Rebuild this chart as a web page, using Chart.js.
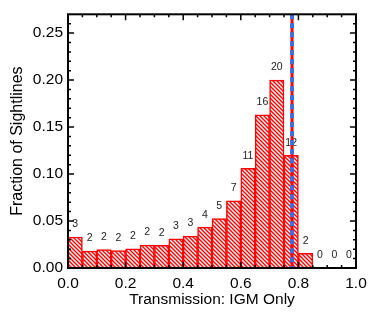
<!DOCTYPE html>
<html>
<head>
<meta charset="utf-8">
<script src="https://cdn.jsdelivr.net/npm/chart.js@4.4.1/dist/chart.umd.min.js"></script>
<style>
  html, body { margin: 0; padding: 0; background: #fff; }
  canvas { display: block; }
</style>
</head>
<body>
<canvas id="histChart" width="374" height="312"></canvas>
<script>
// bin centres (width 0.05), fraction of sightlines per bin, and the count printed above each bar
const binCenters = [0.025, 0.075, 0.125, 0.175, 0.225, 0.275, 0.325, 0.375, 0.425, 0.475,
                    0.525, 0.575, 0.625, 0.675, 0.725, 0.775, 0.825, 0.875, 0.925, 0.975];
const fractions = [0.033, 0.018, 0.0195, 0.0185, 0.0205, 0.0245, 0.024, 0.031, 0.034, 0.0435,
                   0.0525, 0.0715, 0.106, 0.163, 0.200, 0.120, 0.0157, 0, 0, 0];
const counts = [3, 2, 2, 2, 2, 2, 2, 3, 3, 4, 5, 7, 11, 16, 20, 12, 2, 0, 0, 0];
const xTicks = [0.0, 0.2, 0.4, 0.6, 0.8, 1.0];
const yTicks = [0.00, 0.05, 0.10, 0.15, 0.20, 0.25];
const markerX = 0.778;

Chart.defaults.font.family = '"Liberation Sans", Arial, sans-serif';
Chart.defaults.color = '#000';

// red diagonal hatching
const makeHatch = () => {
  const s = 4;
  const c = document.createElement('canvas');
  c.width = s; c.height = s;
  const g = c.getContext('2d');
  g.fillStyle = '#fff';
  g.fillRect(0, 0, s, s);
  g.strokeStyle = '#ff0000';
  g.lineWidth = 1.4;
  [-s, 0, s].forEach(o => {
    g.beginPath();
    g.moveTo(o - 1, -1);
    g.lineTo(o + s + 1, s + 1);
    g.stroke();
  });
  return g.createPattern(c, 'repeat');
};

const framePlugin = {
  id: 'frame',
  afterDatasetsDraw(chart) {
    const { ctx, chartArea: a, scales: { x, y } } = chart;
    const meta = chart.getDatasetMeta(0);

    // counts above the bars
    ctx.save();
    ctx.font = '10.5px "Liberation Sans", Arial, sans-serif';
    ctx.fillStyle = '#222';
    ctx.textAlign = 'center';
    ctx.textBaseline = 'middle';
    meta.data.forEach((bar, i) => {
      ctx.fillText(String(counts[i]), x.getPixelForValue(binCenters[i]), y.getPixelForValue(fractions[i]) - 12.5);
    });

    // vertical marker: red under blue dashes
    const mx = x.getPixelForValue(markerX);
    ctx.lineWidth = 3;
    ctx.strokeStyle = '#ff0000';
    ctx.beginPath(); ctx.moveTo(mx, a.top); ctx.lineTo(mx, a.bottom); ctx.stroke();
    ctx.lineWidth = 4;
    ctx.strokeStyle = '#3b6fe0';
    ctx.setLineDash([5, 4]);
    ctx.beginPath(); ctx.moveTo(mx, a.top); ctx.lineTo(mx, a.bottom); ctx.stroke();
    ctx.setLineDash([]);

    // box and inward ticks on all sides
    ctx.strokeStyle = '#000';
    ctx.lineWidth = 1.5;
    for (let v = 0; v <= 1.0001; v += 0.05) {
      const px = x.getPixelForValue(v);
      const major = Math.abs(v / 0.2 - Math.round(v / 0.2)) < 1e-6;
      const len = major ? 6 : 3;
      ctx.beginPath();
      ctx.moveTo(px, a.bottom); ctx.lineTo(px, a.bottom - len);
      ctx.moveTo(px, a.top); ctx.lineTo(px, a.top + len);
      ctx.stroke();
    }
    for (let v = 0; v <= 0.27; v += 0.01) {
      const py = y.getPixelForValue(v);
      const major = Math.abs(v / 0.05 - Math.round(v / 0.05)) < 1e-6;
      const len = major ? 6 : 3;
      ctx.beginPath();
      ctx.moveTo(a.left, py); ctx.lineTo(a.left + len, py);
      ctx.moveTo(a.right, py); ctx.lineTo(a.right - len, py);
      ctx.stroke();
    }
    ctx.lineWidth = 2;
    ctx.strokeRect(a.left, a.top, a.right - a.left, a.bottom - a.top);
    ctx.restore();
  }
};

new Chart(document.getElementById('histChart').getContext('2d'), {
  type: 'bar',
  data: {
    datasets: [{
      data: binCenters.map((v, i) => ({ x: v, y: fractions[i] })),
      backgroundColor: makeHatch(),
      borderColor: '#ff0000',
      borderWidth: 1.5,
      barPercentage: 1,
      categoryPercentage: 1
    }]
  },
  options: {
    responsive: false,
    animation: false,
    devicePixelRatio: 1,
    layout: { padding: { left: 0, right: 18, top: 5, bottom: 0 } },
    plugins: { legend: { display: false }, tooltip: { enabled: false } },
    scales: {
      x: {
        type: 'linear', min: 0, max: 1, offset: false,
        grid: { display: false, drawTicks: false }, border: { display: false },
        afterBuildTicks: s => { s.ticks = xTicks.map(v => ({ value: v })); },
        ticks: { padding: 6, font: { size: 15.5 }, maxRotation: 0, callback: v => Number(v).toFixed(1) },
        title: { display: true, text: 'Transmission: IGM Only', font: { size: 15.5 }, padding: { top: 0, bottom: 3 } },
        afterFit: s => { s.height = 44; }
      },
      y: {
        min: 0, max: 0.27,
        grid: { display: false, drawTicks: false }, border: { display: false },
        afterBuildTicks: s => { s.ticks = yTicks.map(v => ({ value: v })); },
        ticks: { padding: 5, font: { size: 15.5 }, callback: v => Number(v).toFixed(2) },
        title: { display: true, text: 'Fraction of Sightlines', font: { size: 16 }, padding: { top: 8, bottom: 0 } },
        afterFit: s => { s.width = 68; }
      }
    }
  },
  plugins: [framePlugin]
});
</script>
</body>
</html>
